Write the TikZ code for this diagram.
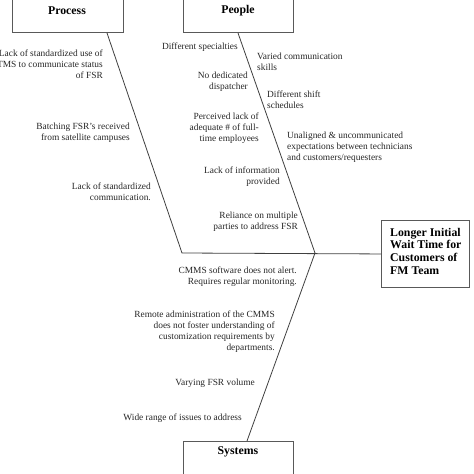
\documentclass[tikz,border=0pt]{standalone}
\usepackage{fontspec}
\setmainfont{Liberation Serif}
\begin{document}
\begin{tikzpicture}[x=1pt,y=-1pt]
\tikzset{
 box/.style={draw=black!65, line width=0.9pt, fill=white, inner sep=0pt},
 bone/.style={draw=black!75, line width=0.8pt},
 cause/.style={inner sep=0pt, font=\fontsize{9.4}{10.9}\selectfont, text=black!85},
 causeR/.style={cause, align=right, anchor=east},
 causeL/.style={cause, align=left, anchor=west},
 head/.style={inner sep=0pt, font=\fontsize{11.8}{12.6}\selectfont\bfseries},
}
\useasboundingbox (0,0) rectangle (474,474);
\clip (0,0) rectangle (474,474);

% boxes
\node[box, minimum width=111pt, minimum height=45pt, anchor=south west] (process) at (12,33) {};
\node[box, minimum width=110pt, minimum height=45pt, anchor=south west] (people) at (183,33) {};
\node[box, minimum width=110pt, minimum height=45pt, anchor=north west] (systems) at (183,441) {};
\node[box, minimum width=88pt, minimum height=67pt, anchor=north west] (result) at (381,220) {};

\node[head] (processT) at (67,11) {Process};
\node[head] (peopleT) at (238,11) {People};
\node[head] (systemsT) at (238,452) {Systems};
\node[head, align=left, anchor=north west] (resultT) at (390,228) {Longer Initial\\Wait Time for\\Customers of\\FM Team};

% bones
\coordinate (pb) at (107,33);
\coordinate (pj) at (182,253);
\coordinate (qb) at (238,33);
\coordinate (hj) at (315,253);
\coordinate (sb) at (247,441);
\draw[bone] (pb) -- (pj) -- (result.west);
\draw[bone] (qb) -- (hj);
\draw[bone] (hj) -- (sb);

% process causes
\node[causeR] (p1) at (103,64.5) {Lack of standardized use of\\TMS to communicate status\\of FSR};
\node[causeR] (p2) at (130,132.5) {Batching FSR's received\\from satellite campuses};
\node[causeR] (p3) at (151,191.5) {Lack of standardized\\communication.};

% people causes
\node[causeR] (q1) at (238,47) {Different specialties};
\node[causeR] (q2) at (248,81.5) {No dedicated\\dispatcher};
\node[causeR] (q3) at (259,128.5) {Perceived lack of\\adequate \# of full-\\time employees};
\node[causeR] (q4) at (280,177) {Lack of information\\provided};
\node[causeR] (q5) at (298,221.5) {Reliance on multiple\\parties to address FSR};
\node[causeL] (q6) at (257,62) {Varied communication\\skills};
\node[causeL] (q7) at (267,99.5) {Different shift\\schedules};
\node[causeL] (q8) at (287,147.5) {Unaligned \& uncommunicated\\expectations between technicians\\and customers/requesters};

% systems causes
\node[causeR] (s1) at (297,277) {CMMS software does not alert.\\Requires regular monitoring.};
\node[causeR] (s2) at (275,332) {Remote administration of the CMMS\\does not foster understanding of\\customization requirements by\\departments.};
\node[causeR] (s3) at (255,383) {Varying FSR volume};
\node[causeR] (s4) at (242,418) {Wide range of issues to address};
\end{tikzpicture}
\end{document}
